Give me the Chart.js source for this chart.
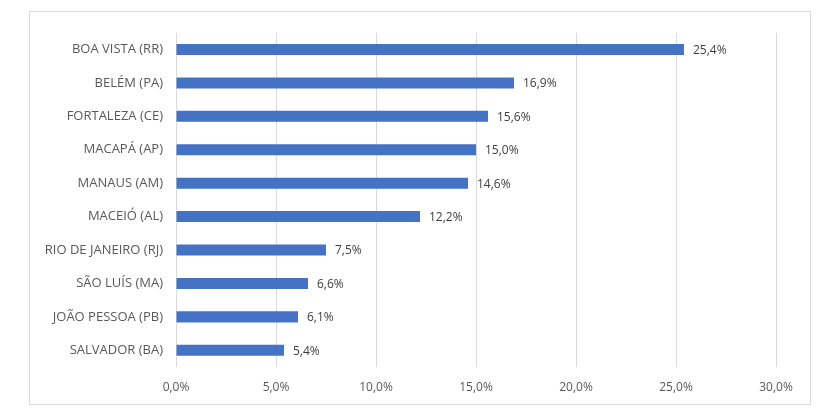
<!DOCTYPE html>
<html>
<head>
<meta charset="utf-8">
<script src="https://cdn.jsdelivr.net/npm/chart.js@4"></script>
<style>
  body { margin: 0; background: #fff; }
  #frame {
    position: absolute; left: 29px; top: 11px;
    width: 780px; height: 392px;
    border: 1px solid #d9d9d9;
  }
</style>
</head>
<body>
<div id="frame"><canvas id="chart"></canvas></div>
<script>
// data
let cidades = [
    'BOA VISTA (RR)',
    'BELÉM (PA)',
    'FORTALEZA (CE)',
    'MACAPÁ (AP)',
    'MANAUS (AM)',
    'MACEIÓ (AL)',
    'RIO DE JANEIRO (RJ)',
    'SÃO LUÍS (MA)',
    'JOÃO PESSOA (PB)',
    'SALVADOR (BA)'
];
let valores = [25.4, 16.9, 15.6, 15.0, 14.6, 12.2, 7.5, 6.6, 6.1, 5.4];
let eixoMax = 30;
let eixoPasso = 5;

function pct(v) {
    return v.toFixed(1).replace('.', ',') + '%';
}

// labels at the end of each bar
let rotulos = {
    id: 'rotulos',
    afterDatasetsDraw(chart) {
        let c = chart.ctx;
        let meta = chart.getDatasetMeta(0);
        c.save();
        c.font = '12px "Open Sans"';
        c.fillStyle = '#404040';
        c.textAlign = 'left';
        c.textBaseline = 'middle';
        meta.data.forEach((bar, i) => {
            c.fillText(pct(valores[i]), bar.x + 9, bar.y + 1);
        });
        c.restore();
    }
};

let ctx = document.getElementById('chart');

new Chart(ctx, {
    type: 'bar',
    data: {
        labels: cidades,
        datasets: [{
            data: valores,
            backgroundColor: '#4472c4',
            barPercentage: 0.33,
            categoryPercentage: 1
        }]
    },
    plugins: [rotulos],
    options: {
        indexAxis: 'y',
        responsive: true,
        maintainAspectRatio: false,
        animation: false,
        layout: {
            padding: { top: 16, right: 34, bottom: 0, left: 0 }
        },
        plugins: {
            legend: { display: false },
            tooltip: { enabled: false }
        },
        scales: {
            x: {
                min: 0,
                max: eixoMax,
                ticks: {
                    stepSize: eixoPasso,
                    padding: 13,
                    color: '#595959',
                    font: { family: 'Open Sans', size: 12 },
                    callback: v => pct(v)
                },
                grid: { color: '#d9d9d9', drawTicks: false },
                border: { display: false },
                afterFit(scale) { scale.height = 37; }
            },
            y: {
                ticks: {
                    padding: 13,
                    color: '#595959',
                    font: { family: 'Open Sans', size: 13 }
                },
                grid: { display: false, drawTicks: false },
                border: { display: false },
                afterFit(scale) { scale.width = 146; }
            }
        }
    }
});
</script>
</body>
</html>
